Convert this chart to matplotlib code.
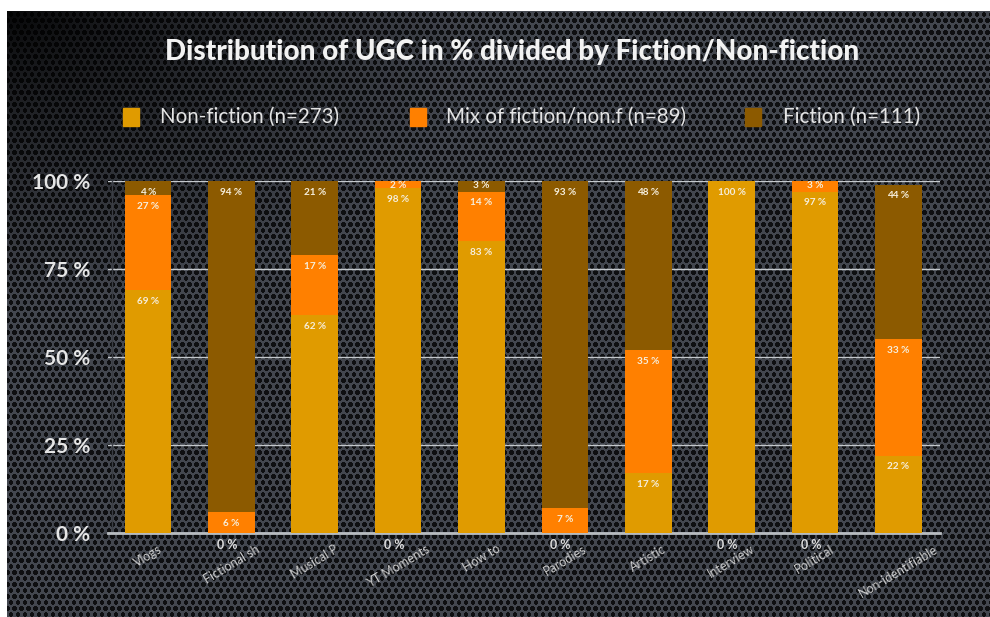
import numpy as np
import matplotlib
matplotlib.use('Agg')
import matplotlib.pyplot as plt
from matplotlib.patches import Rectangle

plt.rcParams['font.family'] = ['Lato', 'DejaVu Sans']

categories = ['Vlogs', 'Fictional sh', 'Musical P', 'YT Moments', 'How to',
              'Parodies', 'Artistic', 'Interview', 'Political', 'Non-identifiable']
non_fiction = [69, 0, 62, 98, 83, 0, 17, 100, 97, 22]
mix = [27, 6, 17, 2, 14, 7, 35, 0, 3, 33]
fiction = [4, 94, 21, 0, 3, 93, 48, 0, 0, 44]

series_names = ['Non-fiction (n=273)', 'Mix of fiction/non.f (n=89)', 'Fiction (n=111)']
colors = ['#E09B00', '#FF8000', '#8C5A00']
yticks = [0, 25, 50, 75, 100]

W, H = 990, 617
fig = plt.figure(figsize=(W / 100, H / 100), dpi=100)
fig.patch.set_facecolor('white')

# dark perforated background
bg = fig.add_axes([7 / W, 0, 1 - 7 / W, 1 - 11 / H])
bh, bw = H - 11, W - 7
yy, xx = np.mgrid[0:bh, 0:bw].astype(float)
t = np.clip(np.hypot(xx / 480, yy / 300), 0, 1) ** 0.8
base = 0.03 + 0.25 * t
row = np.floor(yy / 6)
cx = (xx + 3.5 * (row % 2)) % 7 - 3.5
cy = yy % 6 - 3
hole = np.hypot(cx, cy) < 2.4
lum = np.where(hole, base * 0.22, base)
img = np.dstack([lum * 0.95, lum * 1.0, lum * 1.12])
bg.imshow(np.clip(img, 0, 1), aspect='auto', interpolation='bilinear')
bg.axis('off')

ax = fig.add_axes([108 / W, 1 - 533 / H, 832 / W, 352 / H])
ax.patch.set_alpha(0)

# spines first (set_position resets the ticks)
for s in ['top', 'right']:
    ax.spines[s].set_visible(False)
ax.spines['bottom'].set_color('#b8bcc0')
ax.spines['bottom'].set_linewidth(2)
ax.spines['left'].set_position(('data', -0.43))
ax.spines['left'].set_color('#3a3d44')
ax.spines['left'].set_linewidth(1)

x = np.arange(len(categories))
width = 0.56

bottom = np.zeros(len(categories))
for vals, c in zip([non_fiction, mix, fiction], colors):
    vals = np.array(vals, dtype=float)
    ax.bar(x, vals, width, bottom=bottom, color=c, zorder=3)
    for xi, v, b in zip(x, vals, bottom):
        if v > 0:
            off = 1.2 if v <= 3 else 3.2
            ax.text(xi, b + v - off, f'{int(v)} %', ha='center', va='center',
                    fontsize=7.2, fontweight='bold', color='#f6eedc', zorder=4)
    bottom += vals

# zero labels under the axis
for xi, a, b, c in zip(x, non_fiction, mix, fiction):
    if 0 in (a, b, c):
        ax.text(xi - 0.05, -3.5, '0 %', ha='center', va='center', fontsize=9,
                fontweight='bold', color='#dcdcdc', clip_on=False)

ax.set_xlim(-0.48, 9.5)
ax.set_ylim(0, 100)
ax.tick_params(axis='y', length=0, pad=16)
ax.tick_params(axis='x', length=0, pad=7)
ax.set_yticks(yticks)
ax.set_yticklabels([f'{v} %' for v in yticks], fontsize=15, fontweight='bold',
                   color='#e6e6e6')
ax.set_xticks(x)
ax.set_xticklabels(categories, rotation=31, ha='center', va='top', fontsize=9,
                   color='#cccccc')
ax.grid(axis='y', color='#c4c8cc', linewidth=1.0, zorder=1)

fig.text(512 / W, 1 - 52 / H, 'Distribution of UGC in % divided by Fiction/Non-fiction',
         ha='center', va='center', fontsize=20, fontweight='black', color='#f2f2f2')

# legend
sq_x = [123, 410, 745]
txt_x = [160, 446, 783]
for sx, tx, name, c in zip(sq_x, txt_x, series_names, colors):
    fig.patches.append(Rectangle((sx / W, 1 - 126 / H), 16 / W, 18 / H,
                                 transform=fig.transFigure, color=c))
    fig.text(tx / W, 1 - 117 / H, name, ha='left', va='center', fontsize=14.8,
             color='#e4e4e4')

fig.savefig('out.png', dpi=100, facecolor=fig.get_facecolor())
